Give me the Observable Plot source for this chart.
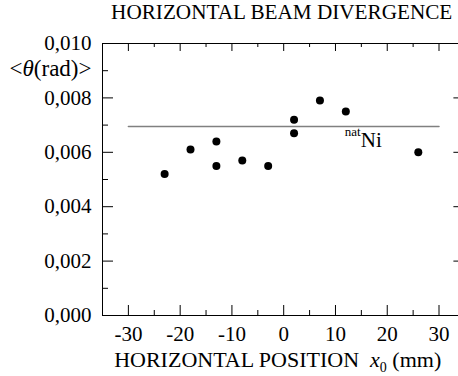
<!DOCTYPE html>
<html>
<head>
<meta charset="utf-8">
<script src="https://cdn.jsdelivr.net/npm/d3@7"></script>
<script src="https://cdn.jsdelivr.net/npm/@observablehq/plot@0.6"></script>
<style>
  html, body { margin: 0; padding: 0; overflow: hidden; background: #fff; }
  svg text { font-family: "Liberation Serif", "Times New Roman", serif !important; }
</style>
</head>
<body>
<div id="chart"></div>
<script>
// Measured mean divergence per horizontal beam position
const positions = [-23, -18, -13, -13, -8, -3, 2, 2, 7, 12, 26];
const divergence = [0.0052, 0.0061, 0.0064, 0.0055, 0.0057, 0.0055, 0.0072, 0.0067, 0.0079, 0.0075, 0.0060];

// Reference level for natural nickel
const natNiLevel = 0.00695;
const natNiSpan = [-30, 30];
const natNiLabelX = 12;

// Tick positions
const xMajor = [-30, -20, -10, 0, 10, 20, 30];
const xMinor = [-35, -25, -15, -5, 5, 15, 25, 35];
const yMajor = [0, 0.002, 0.004, 0.006, 0.008, 0.010];
const yMinor = [0.001, 0.003, 0.005, 0.007, 0.009];

const titleText = "HORIZONTAL BEAM DIVERGENCE";
const xLabelText = "HORIZONTAL POSITION  x0 (mm)";
const yLabelText = "<θ(rad)>";

const points = positions.map((x, i) => ({x, y: divergence[i]}));
const natNiLine = natNiSpan.map(x => ({x, y: natNiLevel}));

const commaFormat = d => d.toFixed(3).replace(".", ",");

const W = 466, H = 376;
const margin = {left: 102, right: 1.6, top: 43, bottom: 61};
const innerW = W - margin.left - margin.right;
const innerH = H - margin.top - margin.bottom;

// Inward-pointing tick marks: full-frame rules shortened by insets
const tickColor = "black";
const ticksBottom = (values, len) => Plot.ruleX(values, {x: d => d, insetTop: innerH - len, stroke: tickColor});
const ticksTop = (values, len) => Plot.ruleX(values, {x: d => d, insetBottom: innerH - len, stroke: tickColor});
const ticksLeft = (values, len) => Plot.ruleY(values, {y: d => d, insetRight: innerW - len, stroke: tickColor});
const ticksRight = (values, len) => Plot.ruleY(values, {y: d => d, insetLeft: innerW - len, stroke: tickColor});

const chart = Plot.plot({
  width: W,
  height: H,
  marginLeft: margin.left,
  marginRight: margin.right,
  marginTop: margin.top,
  marginBottom: margin.bottom,
  x: {domain: [-35, 35]},
  y: {domain: [0, 0.010]},
  style: "font-family: 'Liberation Serif', 'Times New Roman', serif; font-size: 21px; color: black; background: white; overflow: visible; max-width: none;",
  marks: [
    Plot.frame({stroke: "black"}),
    ticksBottom(xMajor, 10),
    ticksBottom(xMinor, 5),
    ticksTop(xMajor, 8),
    ticksTop(xMinor, 4),
    ticksLeft(yMajor, 11),
    ticksLeft(yMinor, 6),
    ticksRight(yMajor, 11),
    ticksRight(yMinor, 6),
    Plot.axisX(xMajor, {anchor: "bottom", tickSize: 0, tickPadding: 11, tickFormat: d => `${d}`, label: null, fontSize: 21}),
    Plot.axisY(yMajor, {anchor: "left", tickSize: 0, tickPadding: 11, tickFormat: commaFormat, label: null, fontSize: 21}),
    Plot.line(natNiLine, {x: "x", y: "y", stroke: "#808080", strokeWidth: 1.5}),
    Plot.dot(points, {x: "x", y: "y", r: 4, fill: "black"}),
    Plot.text([{x: natNiLabelX, y: natNiLevel}], {x: "x", y: "y", text: () => "nat", textAnchor: "start", dx: -1, dy: 5, fontSize: 13}),
    Plot.text([{x: natNiLabelX, y: natNiLevel}], {x: "x", y: "y", text: () => "Ni", textAnchor: "start", dx: 15, dy: 14, fontSize: 21}),
    Plot.text([titleText], {frameAnchor: "top", lineAnchor: "middle", dy: -31, dx: -2, fontSize: 21.2}),
    Plot.text([xLabelText], {frameAnchor: "bottom", lineAnchor: "middle", dy: 44, dx: -6, fontSize: 22}),
    Plot.text([yLabelText], {frameAnchor: "top-left", lineAnchor: "middle", textAnchor: "end", dx: -11, dy: 25, fontSize: 23})
  ]
});

// Rich formatting for axis titles: italic symbols and subscript
d3.select(chart).selectAll("text").each(function() {
  const t = d3.select(this);
  if (this.textContent === yLabelText) {
    t.text(null);
    t.append("tspan").text("<");
    t.append("tspan").attr("font-style", "italic").text("θ");
    t.append("tspan").text("(rad)>");
  } else if (this.textContent === xLabelText) {
    t.text(null);
    t.append("tspan").text("HORIZONTAL POSITION  ");
    t.append("tspan").attr("font-style", "italic").text("x");
    t.append("tspan").attr("font-size", 14).attr("dy", 5).text("0");
    t.append("tspan").attr("dy", -5).text(" (mm)");
  }
});

document.getElementById("chart").appendChild(chart);
</script>
</body>
</html>
